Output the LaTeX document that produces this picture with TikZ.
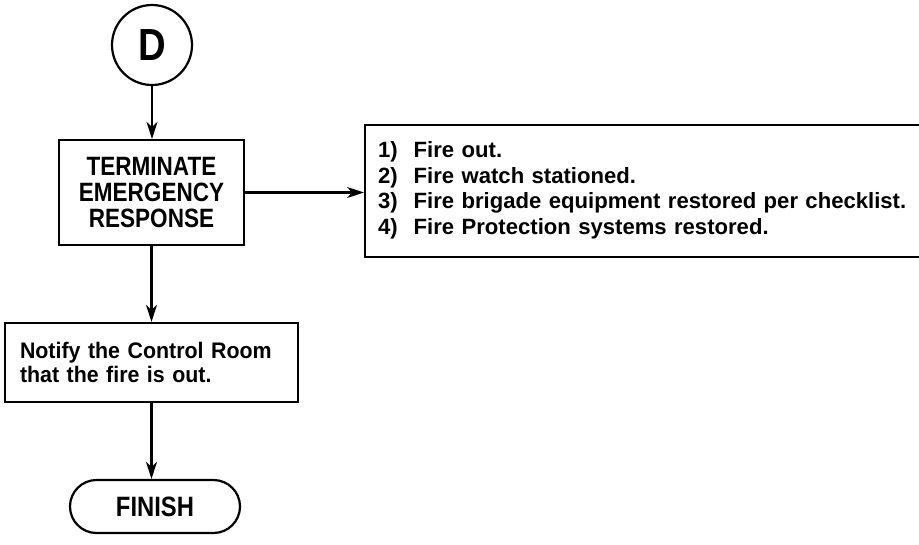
\documentclass[tikz,border=0pt]{standalone}
\usepackage{fontspec}
\setmainfont{Liberation Sans}
\newfontfamily\condfont{Liberation Sans}[FakeStretch=0.85]
\newfontfamily\notefont{Liberation Sans}[FakeStretch=0.95]
\usetikzlibrary{arrows.meta,shapes.misc}
\begin{document}
\begin{tikzpicture}[x=1pt,y=1pt, line width=2.2pt,
  box/.style={draw, rectangle, inner sep=0pt},
  arr/.style={-{Stealth[length=17pt,width=11pt,inset=5pt]}},
  txt/.style={font=\bfseries\fontsize{22.1}{25.7}\selectfont}]
\useasboundingbox (0,0) rectangle (919,-544);
\node[draw, circle, minimum size=80pt, inner sep=0pt,
      font=\condfont\bfseries\fontsize{45}{45}\selectfont] (d) at (152,-45) {D};
\node[box, minimum width=185pt, minimum height=105pt, align=center,
      font=\condfont\bfseries\fontsize{26.5}{26}\selectfont] (term) at (151.5,-192.5)
  {TERMINATE\\EMERGENCY\\RESPONSE};
\node[box, anchor=west, minimum width=565pt, minimum height=132pt, inner xsep=13pt,
      text width=539pt, align=left, txt] (list) at (364,-191)
  {\begin{tabular}{@{}l@{\hspace{16pt}}l@{}}
   1) & Fire out.\\
   2) & Fire watch stationed.\\
   3) & Fire brigade equipment restored per checklist.\\
   4) & Fire Protection systems restored.
   \end{tabular}};
\node[box, minimum width=293pt, minimum height=79pt, inner xsep=15pt,
      text width=263pt, align=left, font=\notefont\bfseries\fontsize{22.5}{24}\selectfont] (notify) at (151.5,-362.5)
  {Notify the Control Room\\that the fire is out.};
\node[draw, rounded rectangle, minimum width=170pt, minimum height=53pt, inner sep=0pt,
      font=\condfont\bfseries\fontsize{28}{28}\selectfont] (finish) at (155,-506.5) {FINISH};
\draw[arr] (d.south) -- (d.south |- term.north);
\draw[arr] (term.east) -- (term.east -| list.west);
\draw[arr] (term.south) -- (term.south |- notify.north);
\draw[arr] (notify.south -| term.south) -- (term.south |- finish.north);
\end{tikzpicture}
\end{document}
